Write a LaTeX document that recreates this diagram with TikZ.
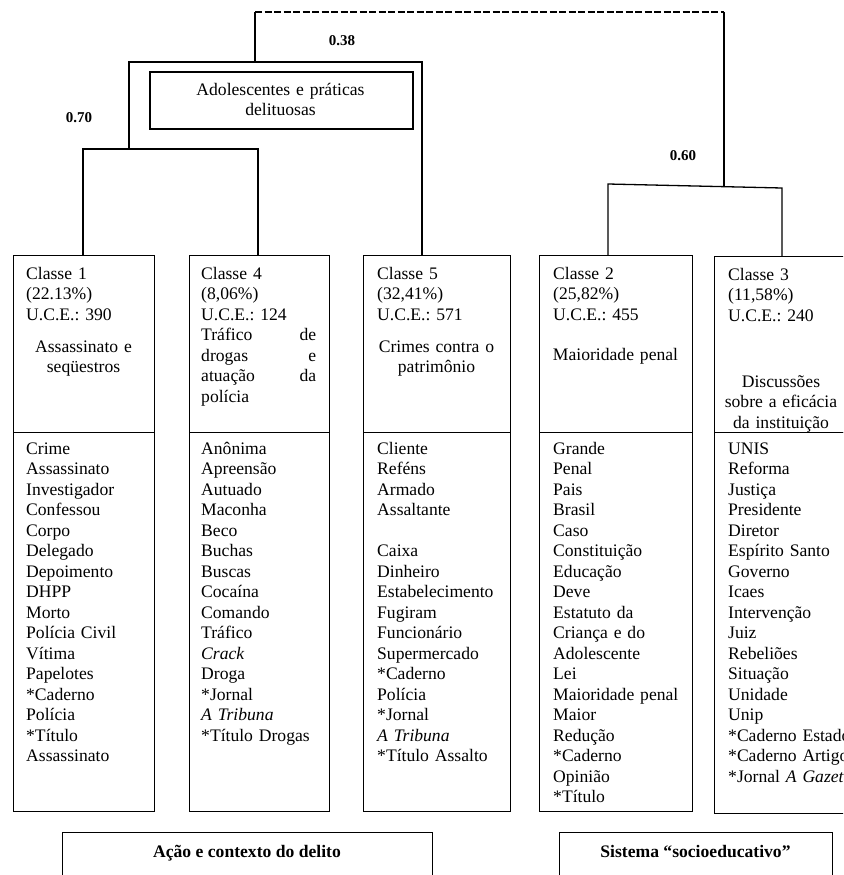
\documentclass[tikz,border=0pt]{standalone}
\usepackage{fontspec}
\setmainfont{Liberation Serif}
\newcommand{\boxfont}{\fontsize{17.6}{20.5}\selectfont\frenchspacing}
\newcommand{\lvlfont}{\fontsize{15}{18}\selectfont\bfseries}
\tikzset{
  clsbox/.style={draw, line width=1.4pt, anchor=north west, inner sep=0pt},
  link/.style={line width=1.3pt},
  hdrtxt/.style={anchor=base west, inner sep=0pt, text width=#1, align=left, font=\boxfont},
  titletxt/.style={anchor=base, inner sep=0pt, text width=#1, align=center, font=\boxfont},
  lvlnum/.style={anchor=base, inner sep=0pt, font=\lvlfont},
  grptitle/.style={anchor=base, inner sep=0pt, font=\boxfont\bfseries},
}
\begin{document}
\begin{tikzpicture}[x=1pt, y=-1pt]
    \useasboundingbox (0,0) rectangle (843,875);
    \clip (0,0) rectangle (843,875);

    % class boxes
    \node[clsbox, minimum width=141pt, minimum height=177pt] (hdr1) at (13,255) {};
    \node[clsbox, minimum width=141pt, minimum height=379pt] (lst1) at (13,432) {};
    \node[clsbox, minimum width=140pt, minimum height=177pt] (hdr4) at (189,255) {};
    \node[clsbox, minimum width=140pt, minimum height=379pt] (lst4) at (189,432) {};
    \node[clsbox, minimum width=147pt, minimum height=177pt] (hdr5) at (363,255) {};
    \node[clsbox, minimum width=147pt, minimum height=379pt] (lst5) at (363,432) {};
    \node[clsbox, minimum width=153pt, minimum height=177pt] (hdr2) at (539,255) {};
    \node[clsbox, minimum width=153pt, minimum height=379pt] (lst2) at (539,432) {};
    \node[clsbox, minimum width=148pt, minimum height=176pt] (hdr3) at (714,256) {};
    \node[clsbox, minimum width=148pt, minimum height=381pt] (lst3) at (714,432) {};

    % headers
    \node[hdrtxt=115pt] (c1) at (26,279) {Classe 1\\(22.13\%)\\U.C.E.: 390};
    \node[titletxt=120pt] (t1) at (83.5,352) {Assassinato e\\seqüestros};
    \node[hdrtxt=115pt] (c4) at (201,279) {Classe 4\\(8,06\%)\\U.C.E.: 124\\Tráfico\hfill de\\drogas\hfill e\\atuação\hfill da\\polícia};
    \node[hdrtxt=120pt] (c5) at (377,279) {Classe 5\\(32,41\%)\\U.C.E.: 571};
    \node[titletxt=125pt] (t5) at (436.5,352) {Crimes contra o\\patrimônio};
    \node[hdrtxt=125pt] (c2) at (553,279) {Classe 2\\(25,82\%)\\U.C.E.: 455};
    \node[titletxt=140pt] (t2) at (615.5,360) {Maioridade penal};
    \node[hdrtxt=120pt] (c3) at (728,280) {Classe 3\\(11,58\%)\\U.C.E.: 240};
    \node[titletxt=130pt] (t3) at (781,387) {Discussões\\sobre a eficácia\\da instituição};

    % word lists
    \node[hdrtxt=120pt] (w1) at (26,454) {Crime\\Assassinato\\Investigador\\Confessou\\Corpo\\Delegado\\Depoimento\\DHPP\\Morto\\Polícia Civil\\Vítima\\Papelotes\\{}*Caderno\\Polícia\\{}*Título\\Assassinato};
    \node[hdrtxt=120pt] (w4) at (201,454) {Anônima\\Apreensão\\Autuado\\Maconha\\Beco\\Buchas\\Buscas\\Cocaína\\Comando\\Tráfico\\\textit{Crack}\\Droga\\{}*Jornal\\\textit{A Tribuna}\\{}*Título Drogas};
    \node[hdrtxt=125pt] (w5) at (377,454) {Cliente\\Reféns\\Armado\\Assaltante\\[\baselineskip]Caixa\\Dinheiro\\Estabelecimento\\Fugiram\\Funcionário\\Supermercado\\{}*Caderno\\Polícia\\{}*Jornal\\\textit{A Tribuna}\\{}*Título Assalto};
    \node[hdrtxt=135pt] (w2) at (553,454) {Grande\\Penal\\Pais\\Brasil\\Caso\\Constituição\\Educação\\Deve\\Estatuto da\\Criança e do\\Adolescente\\Lei\\Maioridade penal\\Maior\\Redução\\{}*Caderno\\Opinião\\{}*Título};
    \node[hdrtxt=140pt] (w3) at (728,454) {UNIS\\Reforma\\Justiça\\Presidente\\Diretor\\Espírito Santo\\Governo\\Icaes\\Intervenção\\Juiz\\Rebeliões\\Situação\\Unidade\\Unip\\{}*Caderno Estado\\{}*Caderno Artigo\\{}*Jornal \textit{A Gazeta}};

    % dendrogram
    \coordinate (j14) at (129,149);
    \coordinate (j145) at (255,62);
    \coordinate (top1) at (255,12);
    \coordinate (top2) at (724,12);
    \coordinate (j23) at (724,186);
    \coordinate (j23l) at (608,184);
    \coordinate (j23r) at (782,188);

    \draw[link] ([xshift=70pt]hdr1.north west) |- (j14) -| ([xshift=69pt]hdr4.north west);
    \draw[link] (j14) |- (j145) -| ([xshift=59pt]hdr5.north west);
    \draw[link] (j145) -- (top1);
    \draw[link, dash pattern=on 7pt off 2.5pt] (top1) -- (top2);
    \draw[link] (top2) -- (j23);
    \draw[link] ([xshift=69pt]hdr2.north west) -- (j23l) -- (j23r) -- ([xshift=68pt]hdr3.north west);

    \node[lvlnum] (v38) at (342,46) {0.38};
    \node[lvlnum] (v70) at (79,122) {0.70};
    \node[lvlnum] (v60) at (683,160) {0.60};

    \node[clsbox, line width=1.6pt, minimum width=263pt, minimum height=57pt] (adol) at (149,71) {};
    \node[titletxt=250pt] (adolt) at (280.5,95) {Adolescentes e práticas\\delituosas};

    % groups
    \node[clsbox, minimum width=370pt, minimum height=70pt] (grp1) at (62,832) {};
    \node[grptitle] (grp1t) at (247,857) {Ação e contexto do delito};
    \node[clsbox, minimum width=273pt, minimum height=70pt] (grp2) at (559,832) {};
    \node[grptitle] (grp2t) at (695.5,857) {Sistema “socioeducativo”};
\end{tikzpicture}
\end{document}
